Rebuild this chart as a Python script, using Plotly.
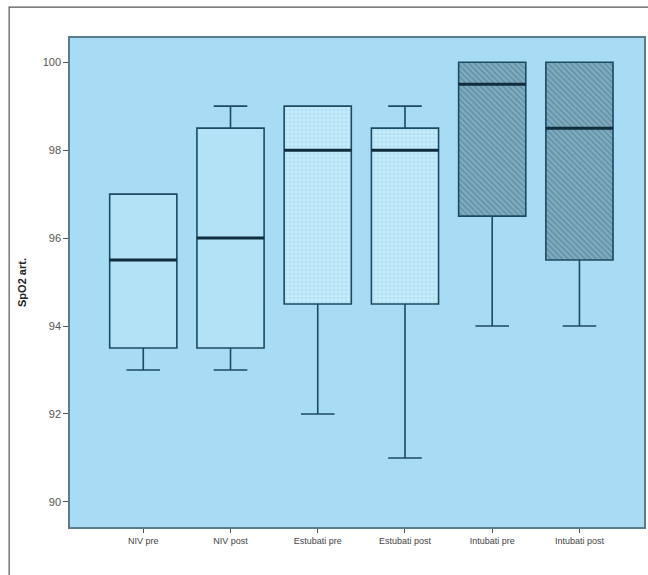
import plotly.graph_objects as go

# SpO2 arterial saturation by group and time point
categories = ["NIV pre", "NIV post", "Estubati pre", "Estubati post", "Intubati pre", "Intubati post"]
lower_whisker = [93.0, 93.0, 92.0, 91.0, 94.0, 94.0]
q1 = [93.5, 93.5, 94.5, 94.5, 96.5, 95.5]
median = [95.5, 96.0, 98.0, 98.0, 99.5, 98.5]
q3 = [97.0, 98.5, 99.0, 98.5, 100.0, 100.0]
upper_whisker = [97.0, 99.0, 99.0, 99.0, 100.0, 100.0]
y_ticks = [90, 92, 94, 96, 98, 100]

BOX_W = 0.77
LINE = "#1c4a62"
BG = "#a8dcf5"

# per-group box fill styles
fill_styles = [
    dict(bg="#b3e2f7", fg="#b3e2f7", shape=""),
    dict(bg="#b3e2f7", fg="#b3e2f7", shape=""),
    dict(bg="#b5e3f7", fg="#e8f6fd", shape="."),
    dict(bg="#b5e3f7", fg="#e8f6fd", shape="."),
    dict(bg="#80acc0", fg="#3e6b80", shape="\\"),
    dict(bg="#80acc0", fg="#3e6b80", shape="\\"),
]

xs = list(range(len(categories)))
fig = go.Figure()

# patterned box bodies
for i in xs:
    st = fill_styles[i]
    fig.add_trace(go.Bar(
        x=[i], y=[q3[i] - q1[i]], base=[q1[i]], width=BOX_W,
        marker=dict(color=st["bg"], line=dict(width=0),
                    pattern=dict(shape=st["shape"], fgcolor=st["fg"], bgcolor=st["bg"],
                                 size=4, solidity=0.35)),
        showlegend=False, hoverinfo="skip",
    ))

# outlines and whiskers
for i in xs:
    fig.add_trace(go.Box(
        x=[i], q1=[q1[i]], median=[median[i]], q3=[q3[i]],
        lowerfence=[lower_whisker[i]], upperfence=[upper_whisker[i]],
        width=BOX_W, whiskerwidth=0.5,
        fillcolor="rgba(0,0,0,0)", line=dict(color=LINE, width=1.6),
        showlegend=False, boxpoints=False,
    ))

# thicker median bars
mx, my = [], []
for i in xs:
    mx += [i - BOX_W / 2, i + BOX_W / 2, None]
    my += [median[i], median[i], None]
fig.add_trace(go.Scatter(x=mx, y=my, mode="lines", line=dict(color="#0f2d3d", width=3),
                         showlegend=False, hoverinfo="skip"))

fig.update_layout(
    width=648, height=575,
    margin=dict(l=70, r=2, t=38, b=48),
    paper_bgcolor="white", plot_bgcolor=BG,
    barmode="overlay",
    font=dict(family="Liberation Sans, Arial, sans-serif", color="#444"),
    shapes=[
        dict(type="rect", xref="paper", yref="paper",
             x0=-0.106, x1=1.08, y0=-0.12, y1=1.063,
             line=dict(color="#555", width=1.2), fillcolor="rgba(0,0,0,0)", layer="below"),
    ],
)
fig.update_xaxes(
    range=[-0.84, 5.74], tickmode="array", tickvals=xs, ticktext=categories,
    ticks="outside", ticklen=4, tickcolor="#555", tickfont=dict(size=9, color="#444"),
    showgrid=False, zeroline=False, showline=True, linecolor="#5b7c8c", linewidth=1.5, mirror=True,
)
fig.update_yaxes(
    range=[89.43, 100.55], tickmode="array", tickvals=y_ticks,
    ticks="outside", ticklen=5, tickcolor="#555", tickfont=dict(size=11, color="#555"),
    showgrid=False, zeroline=False, showline=True, linecolor="#5b7c8c", linewidth=1.5, mirror=True,
    title=dict(text="<b>SpO2 art.</b>", font=dict(size=11, color="#222"), standoff=14),
)

fig.write_html("out.html")
